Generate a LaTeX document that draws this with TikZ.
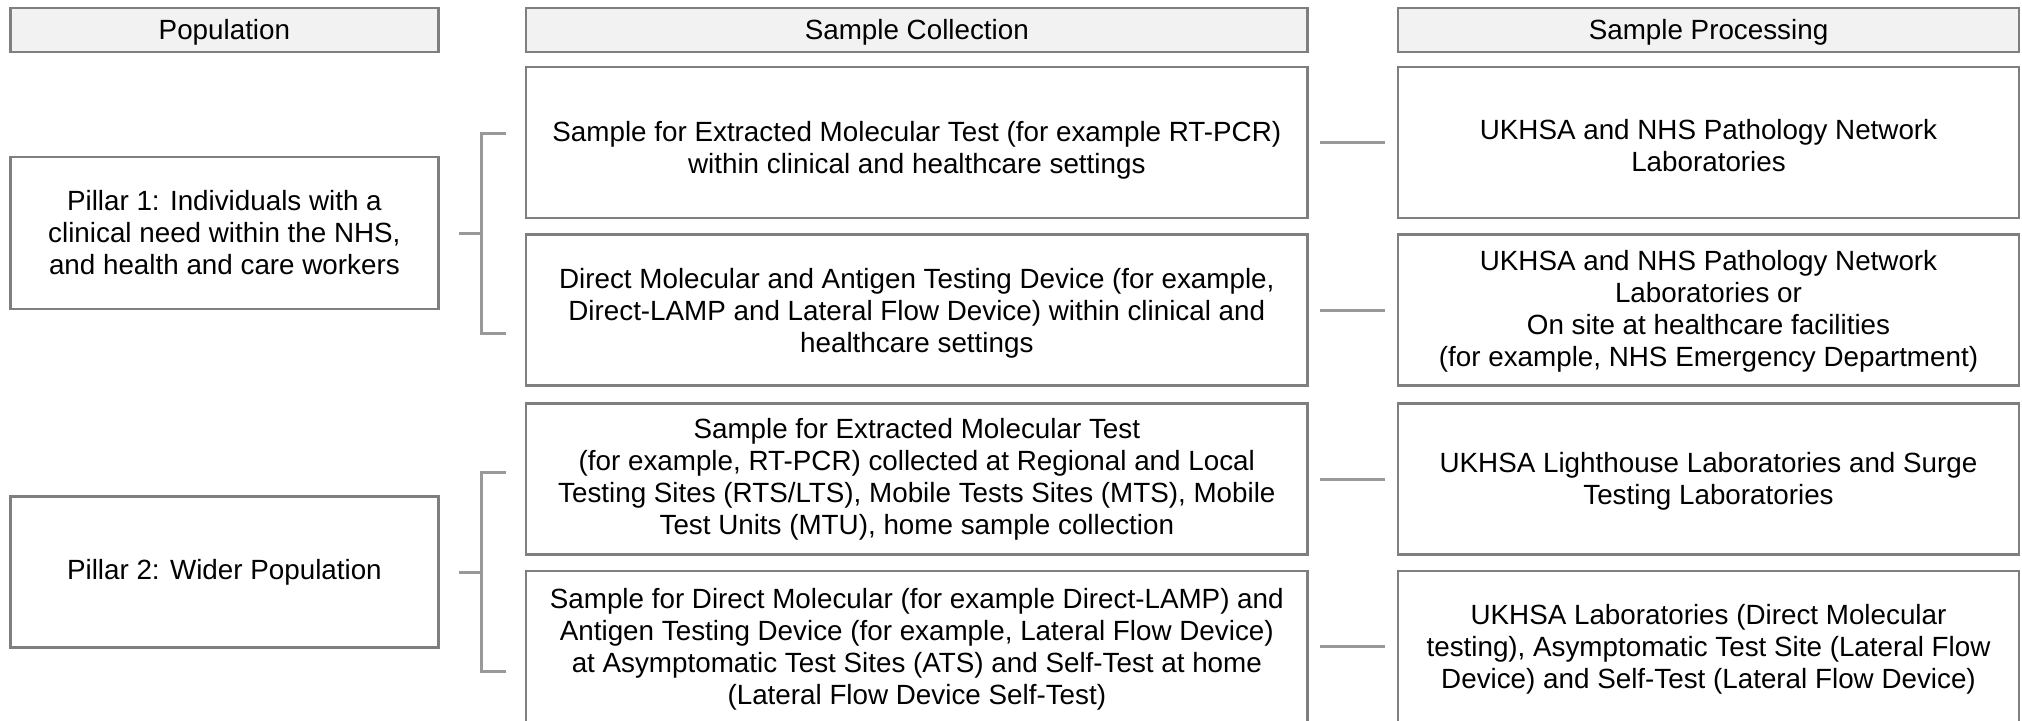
\documentclass[tikz,border=0pt]{standalone}
\usepackage{fontspec}
\setmainfont{Liberation Sans}
\newcommand\myrule[1]{\rule{0pt}{#1}}
\begin{document}
\begin{tikzpicture}[x=0.5pt,y=-0.5pt,
  every node/.style={font=\fontsize{13.9}{16}\selectfont, align=center, inner sep=0pt},
  box/.style={draw=boxgray, line width=1.2pt, fill=white, rectangle, minimum height=75.5pt},
  hdr/.style={draw=boxgray, line width=1.2pt, fill=hdrfill, rectangle, minimum height=22pt, text depth=0pt},
  popw/.style={minimum width=214pt},
  colw/.style={minimum width=390.8pt},
  procw/.style={minimum width=310.5pt},
  conn/.style={draw=linegray, line width=1.5pt, line join=miter}
]
\definecolor{boxgray}{HTML}{7F7F7F}
\definecolor{hdrfill}{HTML}{F2F2F2}
\definecolor{linegray}{HTML}{999999}
\useasboundingbox (0,0) rectangle (2022,720);

% headers
\node[hdr,popw]  (hpop)  at (224.4,29.7) {Population};
\node[hdr,colw]  (hcol)  at (916.8,29.7) {Sample Collection};
\node[hdr,procw] (hproc) at (1708.5,29.7) {Sample Processing};

% population
\node[box,popw,minimum height=76pt] (p1) at (224.4,233) {Pillar 1: Individuals with a\\clinical need within the NHS,\\and health and care workers};
\node[box,popw,minimum height=75.5pt] (p2) at (224.4,572) {Pillar 2: Wider Population};

% sample collection
\node[box,colw] (c1) at (916.8,142.5) {\myrule{17.8pt}Sample for Extracted Molecular Test (for example RT-PCR)\\within clinical and healthcare settings};
\node[box,colw] (c2) at (916.8,310) {\myrule{13.3pt}Direct Molecular and Antigen Testing Device (for example,\\Direct-LAMP and Lateral Flow Device) within clinical and\\healthcare settings};
\node[box,colw] (c3) at (916.8,479) {Sample for Extracted Molecular Test\\(for example, RT-PCR) collected at Regional and Local\\Testing Sites (RTS/LTS), Mobile Tests Sites (MTS), Mobile\\Test Units (MTU), home sample collection};
\node[box,colw] (c4) at (916.8,646.5) {\myrule{12.7pt}Sample for Direct Molecular (for example Direct-LAMP) and\\Antigen Testing Device (for example, Lateral Flow Device)\\at Asymptomatic Test Sites (ATS) and Self-Test at home\\(Lateral Flow Device Self-Test)};

% sample processing
\node[box,procw] (s1) at (1708.5,142.5) {\myrule{13.3pt}UKHSA and NHS Pathology Network\\Laboratories};
\node[box,procw] (s2) at (1708.5,310) {\myrule{11.2pt}UKHSA and NHS Pathology Network\\Laboratories or\\On site at healthcare facilities\\(for example, NHS Emergency Department)};
\node[box,procw] (s3) at (1708.5,479) {\myrule{12.7pt}UKHSA Lighthouse Laboratories and Surge\\Testing Laboratories};
\node[box,procw] (s4) at (1708.5,646.5) {\myrule{12.7pt}UKHSA Laboratories (Direct Molecular\\testing), Asymptomatic Test Site (Lateral Flow\\Device) and Self-Test (Lateral Flow Device)};

% brackets
\coordinate (b1m) at (481,233);
\coordinate (b1t) at (505.5,133);
\coordinate (b1b) at (505.5,333);
\draw[conn] (p1.east) ++(19,0) -- (b1m);
\draw[conn] (b1t) -| (b1m) |- (b1b);

\coordinate (b2m) at (481,572);
\coordinate (b2t) at (505.5,472);
\coordinate (b2b) at (505.5,671);
\draw[conn] (p2.east) ++(19,0) -- (b2m);
\draw[conn] (b2t) -| (b2m) |- (b2b);

% collection -> processing
\draw[conn, shorten <=5.5pt, shorten >=6pt] (c1.east) -- (s1.west);
\draw[conn, shorten <=5.5pt, shorten >=6pt] (c2.east) -- (s2.west);
\draw[conn, shorten <=5.5pt, shorten >=6pt] (c3.east) -- (s3.west);
\draw[conn, shorten <=5.5pt, shorten >=6pt] (c4.east) -- (s4.west);
\end{tikzpicture}
\end{document}
